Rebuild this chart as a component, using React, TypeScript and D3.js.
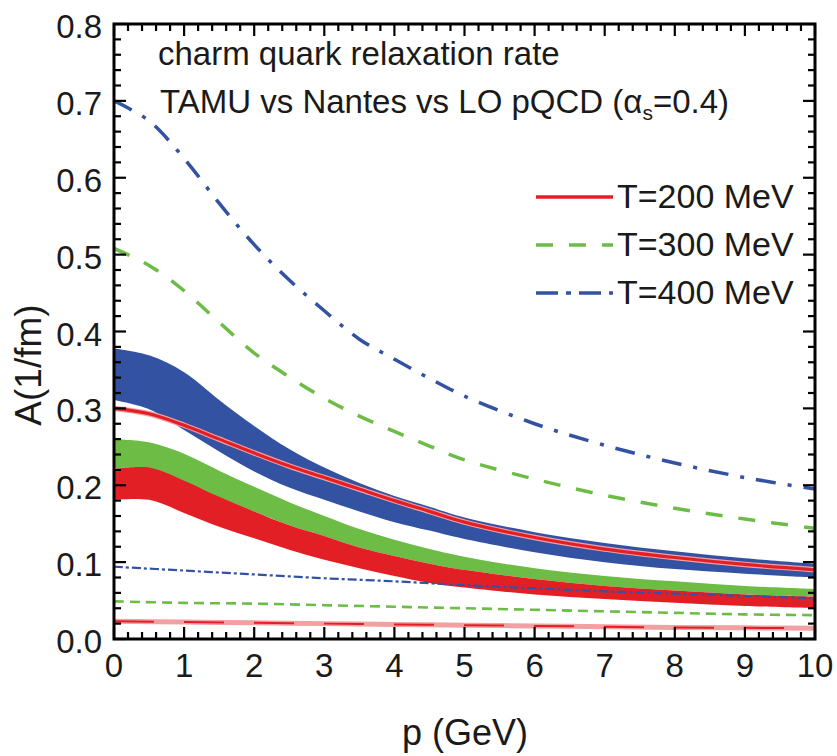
import React from "react";
import * as d3 from "d3";

// ---- data ----
const pGrid = [0, 0.5, 1, 1.5, 2, 2.5, 3, 3.5, 4, 4.5, 5, 6, 7, 8, 9, 10];

// LO pQCD curves
const loT400 = [0.700, 0.674, 0.625, 0.567, 0.513, 0.467, 0.427, 0.390, 0.364, 0.339, 0.316, 0.280, 0.252, 0.229, 0.210, 0.195];
const loT300 = [0.508, 0.486, 0.453, 0.412, 0.372, 0.341, 0.313, 0.290, 0.270, 0.251, 0.233, 0.208, 0.187, 0.170, 0.156, 0.144];

// TAMU bands
const bandT400Upper = [0.378, 0.369, 0.347, 0.311, 0.277, 0.247, 0.223, 0.203, 0.186, 0.172, 0.158, 0.139, 0.125, 0.114, 0.105, 0.098];
const bandT400Lower = [0.311, 0.299, 0.272, 0.244, 0.218, 0.197, 0.181, 0.166, 0.152, 0.141, 0.130, 0.113, 0.100, 0.091, 0.085, 0.080];
const bandT300Upper = [0.260, 0.256, 0.241, 0.219, 0.198, 0.178, 0.160, 0.143, 0.129, 0.117, 0.107, 0.092, 0.082, 0.075, 0.069, 0.065];
const bandT300Lower = [0.222, 0.222, 0.205, 0.184, 0.166, 0.148, 0.134, 0.119, 0.108, 0.098, 0.090, 0.078, 0.069, 0.063, 0.058, 0.055];
const bandT200Upper = [0.221, 0.223, 0.206, 0.185, 0.166, 0.148, 0.134, 0.119, 0.108, 0.098, 0.090, 0.078, 0.069, 0.063, 0.058, 0.055];
const bandT200Lower = [0.181, 0.181, 0.164, 0.146, 0.131, 0.116, 0.103, 0.092, 0.082, 0.073, 0.067, 0.058, 0.052, 0.047, 0.043, 0.040];

// red solid curve running through the blue band
const redMid = [0.300, 0.293, 0.278, 0.260, 0.242, 0.225, 0.210, 0.195, 0.180, 0.166, 0.152, 0.132, 0.117, 0.106, 0.097, 0.090];

// Nantes curves (low)
const lowGrid = [0, 1, 2, 3, 4, 5, 6, 7, 8, 9, 10];
const nantesT400 = [0.094, 0.089, 0.084, 0.079, 0.075, 0.070, 0.066, 0.062, 0.059, 0.056, 0.053];
const nantesT300 = [0.049, 0.047, 0.046, 0.044, 0.042, 0.040, 0.038, 0.036, 0.034, 0.032, 0.031];
const nantesT200 = [0.023, 0.022, 0.021, 0.020, 0.019, 0.018, 0.017, 0.016, 0.015, 0.0145, 0.014];

const xMajor = [0, 1, 2, 3, 4, 5, 6, 7, 8, 9, 10];
const yMajor = [0, 0.1, 0.2, 0.3, 0.4, 0.5, 0.6, 0.7, 0.8];
const yMajorLabels = ["0.0", "0.1", "0.2", "0.3", "0.4", "0.5", "0.6", "0.7", "0.8"];
const legendLabels = ["T=200 MeV", "T=300 MeV", "T=400 MeV"];

const RED = "#e31f26";
const PINK = "#f3a0a2";
const GREEN = "#6cbc46";
const BLUE = "#3452a2";
const FONT = "'Liberation Sans', Arial, sans-serif";
const TXT = "#1a1a1a";

export default function App() {
  const W = 837, H = 756;
  const left = 114, right = 815, top = 24, bottom = 639;
  const x = d3.scaleLinear().domain([0, 10]).range([left, right]);
  const y = d3.scaleLinear().domain([0, 0.8]).range([bottom, top]);
  const curve = d3.curveCatmullRom.alpha(0.5);

  const line = (g: number[], v: number[]) =>
    d3.line<number>().x((_, i) => x(g[i])).y((d) => y(d)).curve(curve)(v) || "";
  const area = (g: number[], lo: number[], hi: number[]) =>
    d3.area<number>().x((_, i) => x(g[i])).y0((_, i) => y(lo[i])).y1((d) => y(d)).curve(curve)(hi) || "";

  const xMinor = d3.range(0, 10.001, 0.2).filter((v) => Math.abs(v - Math.round(v)) > 1e-6);
  const yMinor = d3.range(0, 0.8001, 0.02).filter((v) => Math.abs(v * 10 - Math.round(v * 10)) > 1e-6);
  const MAJ = 12, MIN = 7;

  const legY = [197, 245, 293];
  const lx0 = 536, lx1 = 613;

  return (
    <svg width={W} height={H} style={{ position: "absolute", left: 0, top: 0, background: "#fff" }} fontFamily={FONT}>
      <defs>
        <clipPath id="plot">
          <rect x={left} y={top} width={right - left} height={bottom - top} />
        </clipPath>
      </defs>
      <g clipPath="url(#plot)">
        {/* bands */}
        <path d={area(pGrid, bandT400Lower, bandT400Upper)} fill={BLUE} />
        <path d={area(pGrid, bandT300Lower, bandT300Upper)} fill={GREEN} />
        <path d={area(pGrid, bandT200Lower, bandT200Upper)} fill={RED} />
        {/* red curve through blue band */}
        <path d={line(pGrid, redMid)} fill="none" stroke={PINK} strokeWidth={5.5} />
        <path d={line(pGrid, redMid)} fill="none" stroke={RED} strokeWidth={3.2} />
        {/* LO pQCD */}
        <path d={line(pGrid, loT400)} fill="none" stroke={BLUE} strokeWidth={3.5} strokeDasharray="20,12,4,12" />
        <path d={line(pGrid, loT300)} fill="none" stroke={GREEN} strokeWidth={3.5} strokeDasharray="17,16" />
        {/* Nantes */}
        <path d={line(lowGrid, nantesT400)} fill="none" stroke={BLUE} strokeWidth={2.2} strokeDasharray="9,3,3,3" />
        <path d={line(lowGrid, nantesT300)} fill="none" stroke={GREEN} strokeWidth={2.6} strokeDasharray="10,6" />
        <path d={line(lowGrid, nantesT200)} fill="none" stroke={PINK} strokeWidth={5} />
        <path d={line(lowGrid, nantesT200)} fill="none" stroke={RED} strokeWidth={2} strokeDasharray="40,30" />
      </g>

      {/* ticks */}
      <g stroke="#000" strokeWidth={2.2}>
        {xMajor.map((v) => (
          <g key={"xm" + v}>
            <line x1={x(v)} x2={x(v)} y1={bottom} y2={bottom - MAJ} />
            <line x1={x(v)} x2={x(v)} y1={top} y2={top + MAJ} />
          </g>
        ))}
        {xMinor.map((v) => (
          <g key={"xn" + v}>
            <line x1={x(v)} x2={x(v)} y1={bottom} y2={bottom - MIN} />
            <line x1={x(v)} x2={x(v)} y1={top} y2={top + MIN} />
          </g>
        ))}
        {yMajor.map((v) => (
          <g key={"ym" + v}>
            <line x1={left} x2={left + MAJ} y1={y(v)} y2={y(v)} />
            <line x1={right} x2={right - MAJ} y1={y(v)} y2={y(v)} />
          </g>
        ))}
        {yMinor.map((v) => (
          <g key={"yn" + v}>
            <line x1={left} x2={left + MIN} y1={y(v)} y2={y(v)} />
            <line x1={right} x2={right - MIN} y1={y(v)} y2={y(v)} />
          </g>
        ))}
      </g>
      <rect x={left} y={top} width={right - left} height={bottom - top} fill="none" stroke="#000" strokeWidth={3} />

      {/* tick labels */}
      <g fill={TXT} fontSize={33}>
        {yMajor.map((v, i) => (
          <text key={"yl" + v} x={102} y={y(v) + 14} textAnchor="end">{yMajorLabels[i]}</text>
        ))}
        {xMajor.map((v) => (
          <text key={"xl" + v} x={x(v)} y={677} textAnchor="middle">{v}</text>
        ))}
      </g>

      {/* axis titles */}
      <text x={465} y={745} textAnchor="middle" fontSize={36} fill={TXT}>p (GeV)</text>
      <text transform="translate(41,365) rotate(-90)" textAnchor="middle" fontSize={37} fill={TXT}>A(1/fm)</text>

      {/* annotation */}
      <text x={158} y={65} fontSize={33} fill={TXT}>charm quark relaxation rate</text>
      <text x={160} y={113} fontSize={33} fill={TXT}>
        TAMU vs Nantes vs LO pQCD (α<tspan fontSize={21} dy={7}>s</tspan><tspan dy={-7}>=0.4)</tspan>
      </text>

      {/* legend */}
      <line x1={lx0} x2={lx1} y1={legY[0]} y2={legY[0]} stroke={RED} strokeWidth={3.5} />
      <line x1={lx0} x2={lx1} y1={legY[1]} y2={legY[1]} stroke={GREEN} strokeWidth={3.5} strokeDasharray="17,16" />
      <line x1={lx0} x2={lx1} y1={legY[2]} y2={legY[2]} stroke={BLUE} strokeWidth={3.5} strokeDasharray="22,8,5,8" />
      {legendLabels.map((t, i) => (
        <text key={t} x={617} y={legY[i] + 11} fontSize={34} fill={TXT}>{t}</text>
      ))}
    </svg>
  );
}
